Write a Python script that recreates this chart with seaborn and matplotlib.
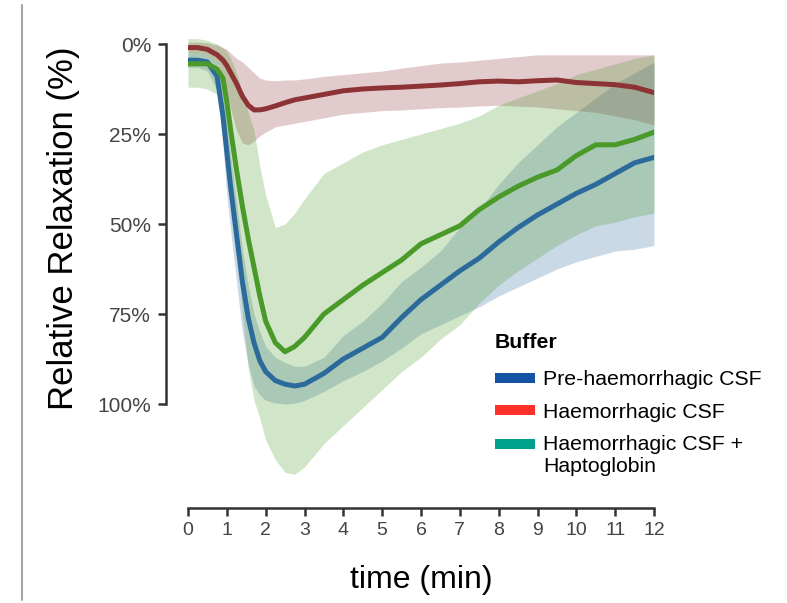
import matplotlib
matplotlib.use("Agg")
import matplotlib.pyplot as plt
import seaborn as sns
import pandas as pd
from matplotlib.lines import Line2D

# ---------------- data ----------------
time = [0, 0.25, 0.5, 0.75, 0.9, 1.0, 1.1, 1.25, 1.4, 1.55, 1.7, 1.85, 2.0, 2.25,
        2.5, 2.75, 3.0, 3.5, 4.0, 4.5, 5.0, 5.5, 6.0, 6.5, 7.0, 7.5, 8.0, 8.5,
        9.0, 9.5, 10.0, 10.5, 11.0, 11.5, 12.0]

buffers = ["Pre-haemorrhagic CSF", "Haemorrhagic CSF",
           "Haemorrhagic CSF +\nHaptoglobin"]

pre_mean = [4.5, 4.5, 5, 9, 20, 30, 40, 53, 66, 76, 83, 88, 91, 93.5,
            94.5, 95, 94.5, 91.5, 87.5, 84.5, 81.5, 76, 71, 67, 63, 59.5, 55, 51,
            47.5, 44.5, 41.5, 39, 36, 33, 31.5]
pre_low = [2.5, 2.5, 3, 5, 13, 22, 31, 44, 57, 67, 75, 80, 84, 87,
           88.5, 89.5, 89.5, 87, 81, 77, 72, 66, 62, 57.5, 51, 46, 39, 33,
           28, 23, 19, 15, 11, 8, 5]
pre_high = [6.5, 6.5, 7.5, 13, 28, 42, 52, 66, 80, 89, 95, 97.5, 99, 99.7,
            100, 99.8, 99, 96.5, 93.5, 91, 88, 84.5, 80.5, 78, 75.5, 73, 70, 67.5,
            65, 62.5, 60.5, 59, 57.5, 57, 56]

haem_mean = [1, 1, 1.5, 3, 4.5, 6, 8, 11, 14.5, 17, 18.3, 18.3, 18, 17.2,
             16.3, 15.5, 15, 14, 13, 12.5, 12.2, 12, 11.7, 11.4, 11, 10.5, 10.3, 10.5,
             10.2, 10, 10.7, 11, 11.3, 12, 13.5]
haem_low = [-0.5, -0.5, -0.3, 0.3, 1, 1.5, 2.5, 4, 5, 6.5, 8, 9.5, 10, 10.2,
            10, 10, 9.7, 9, 8.5, 8, 7.5, 6.7, 6, 5.3, 5, 4.5, 4, 3.5,
            3, 3, 3, 3, 3, 3, 3]
haem_high = [2.5, 2.5, 3, 5, 9, 13, 18, 24, 27.5, 28, 27, 25.5, 24.5, 23,
             22.5, 22, 21.5, 20.5, 19.5, 19, 18.5, 18.3, 18, 17.7, 17.5, 17.2, 17, 17.3,
             17.5, 18, 18.5, 19, 20, 21, 22.5]

hapto_mean = [5.5, 5.5, 5.5, 7, 9.5, 16, 24, 35, 45, 54, 62, 70, 77, 83,
              85.5, 84, 81.5, 75, 71, 67, 63.5, 60, 55.5, 53, 50.5, 46, 42.5, 39.5,
              37, 35, 31, 28, 28, 26.5, 24.5]
hapto_low = [-1.5, -1.5, -1, 0, 1, 2, 4, 8, 14, 19, 24, 34, 42, 51,
             50, 47, 43, 36, 33, 30, 28, 26.5, 25, 23.5, 22, 20, 17, 15,
             13, 11, 8.5, 7, 5.5, 4, 3]
hapto_high = [12, 12, 12.5, 14, 22, 30, 40, 56, 75, 90, 99, 104, 110, 115.5,
              119, 119.5, 117.5, 111, 106, 101, 96, 91, 87, 82, 78, 72, 67, 63,
              59.5, 56, 53, 50.5, 49.5, 48, 47]

y_ticks = [0, 25, 50, 75, 100]
y_tick_labels = ["0%", "25%", "50%", "75%", "100%"]
x_ticks = list(range(0, 13))

line_colors = ["#2c6a9c", "#8e3335", "#4a9a2a"]
legend_colors = ["#1253a4", "#ff3129", "#00a08a"]

# ---------------- build table ----------------
means = [pre_mean, haem_mean, hapto_mean]
lows = [pre_low, haem_low, hapto_low]
highs = [pre_high, haem_high, hapto_high]
df = pd.concat([pd.DataFrame({"time": time, "relax": m, "buffer": b})
                for b, m in zip(buffers, means)], ignore_index=True)

# ---------------- plot ----------------
sns.set_theme(style="ticks")
plt.rcParams["font.family"] = ["Liberation Sans", "DejaVu Sans"]

fig = plt.figure(figsize=(7.87, 6.03), dpi=100)
ax = fig.add_axes([188 / 787, 1 - 486.8 / 603, 466 / 787, 457.2 / 603])

for lo, hi, c in zip(lows, highs, line_colors):
    ax.fill_between(time, lo, hi, color=c, alpha=0.25, lw=0)

sns.lineplot(data=df, x="time", y="relax", hue="buffer", hue_order=buffers,
             palette=line_colors, lw=3.6, legend=False, ax=ax)

ax.set_xlim(0, 12)
ax.set_ylim(123, -4)
ax.set_xticks(x_ticks)
ax.set_yticks(y_ticks)
ax.set_yticklabels(y_tick_labels)

sns.despine(ax=ax, offset={"left": 16, "bottom": 15}, trim=True)
for s in ["left", "bottom"]:
    ax.spines[s].set_color("#333333")
    ax.spines[s].set_linewidth(1.8)
ax.tick_params(axis="both", length=5.5, width=1.8, color="#333333",
               labelsize=14, labelcolor="#444444", pad=5)
ax.tick_params(axis="y", labelsize=15)

ax.set_xlabel("time (min)", fontsize=23, color="black")
ax.set_ylabel("Relative Relaxation (%)", fontsize=25, color="black")
ax.xaxis.set_label_coords(0.5, -0.171)
ax.yaxis.set_label_coords(-0.2318, 0.565)

handles = [Line2D([0], [0], color=c, lw=7.2, solid_capstyle="butt")
           for c in legend_colors]
leg = ax.legend(handles, buffers, title="Buffer", loc="upper left",
                bbox_to_anchor=(495 / 787, 1 - 333 / 603),
                bbox_transform=fig.transFigure, frameon=False,
                fontsize=15.3, title_fontproperties={"weight": "bold", "size": 15.3},
                handlelength=1.9, handletextpad=0.38, borderpad=0,
                borderaxespad=0, labelspacing=0.64, alignment="left",
                labelcolor="black")
leg.get_title().set_color("black")
leg._legend_box.sep = 13
# align the last handle with the first line of its two-line label
h3 = leg.legend_handles[2]
h3.set_ydata([v + 8.8 for v in h3.get_ydata()])

fig.add_artist(Line2D([22 / 787, 22 / 787], [1 - 5 / 603, 1 - 600 / 603],
                      color="#a8a3a6", lw=1.5, transform=fig.transFigure))

fig.savefig("out.png", dpi=100)
